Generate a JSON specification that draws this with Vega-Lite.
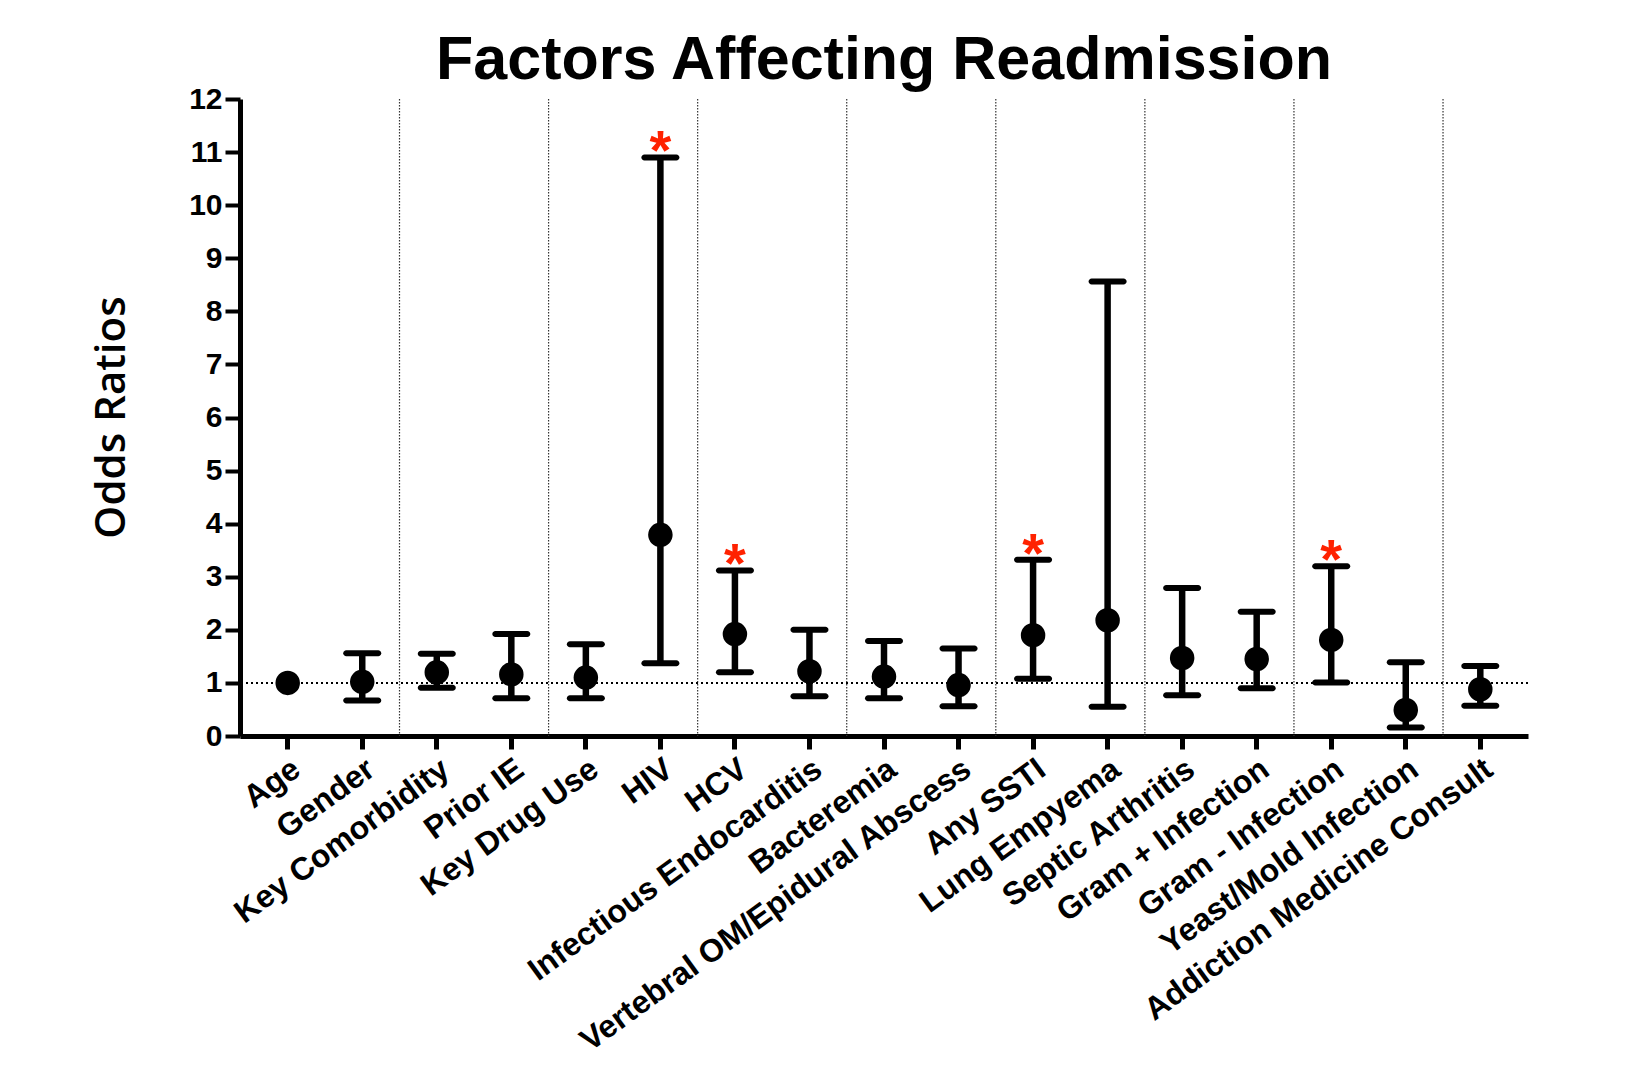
{
  "$schema": "https://vega.github.io/schema/vega-lite/v6.json",
  "autosize": "none",
  "width": 1288,
  "height": 637,
  "padding": {"left": 240, "top": 99, "right": 106, "bottom": 354},
  "background": "white",
  "title": {
    "text": "Factors Affecting Readmission",
    "font": "Liberation Sans",
    "fontSize": 61,
    "fontWeight": "bold",
    "color": "black",
    "anchor": "middle",
    "frame": "group",
    "baseline": "alphabetic",
    "offset": -56
  },
  "config": {
    "view": {"stroke": null},
    "axis": {"grid": false}
  },
  "data": {
    "values": [
      {"factor": "Age", "or": 1.0, "lo": null, "hi": null, "sig": false, "divider": false},
      {"factor": "Gender", "or": 1.02, "lo": 0.67, "hi": 1.56, "sig": false, "divider": true},
      {"factor": "Key Comorbidity", "or": 1.2, "lo": 0.91, "hi": 1.55, "sig": false, "divider": false},
      {"factor": "Prior IE", "or": 1.16, "lo": 0.71, "hi": 1.92, "sig": false, "divider": true},
      {"factor": "Key Drug Use", "or": 1.1, "lo": 0.71, "hi": 1.73, "sig": false, "divider": false},
      {"factor": "HIV", "or": 3.79, "lo": 1.37, "hi": 10.9, "sig": true, "divider": true},
      {"factor": "HCV", "or": 1.92, "lo": 1.2, "hi": 3.12, "sig": true, "divider": false},
      {"factor": "Infectious Endocarditis", "or": 1.22, "lo": 0.75, "hi": 2.0, "sig": false, "divider": true},
      {"factor": "Bacteremia", "or": 1.12, "lo": 0.71, "hi": 1.79, "sig": false, "divider": false},
      {"factor": "Vertebral OM/Epidural Abscess", "or": 0.96, "lo": 0.56, "hi": 1.65, "sig": false, "divider": true},
      {"factor": "Any SSTI", "or": 1.9, "lo": 1.08, "hi": 3.32, "sig": true, "divider": false},
      {"factor": "Lung Empyema", "or": 2.18, "lo": 0.55, "hi": 8.56, "sig": false, "divider": true},
      {"factor": "Septic Arthritis", "or": 1.47, "lo": 0.77, "hi": 2.79, "sig": false, "divider": false},
      {"factor": "Gram + Infection", "or": 1.45, "lo": 0.9, "hi": 2.34, "sig": false, "divider": true},
      {"factor": "Gram - Infection", "or": 1.81, "lo": 1.01, "hi": 3.2, "sig": true, "divider": false},
      {"factor": "Yeast/Mold Infection", "or": 0.49, "lo": 0.16, "hi": 1.39, "sig": false, "divider": true},
      {"factor": "Addiction Medicine Consult", "or": 0.88, "lo": 0.57, "hi": 1.32, "sig": false, "divider": false}
    ]
  },
  "layer": [
    {
      "transform": [{"filter": "datum.divider"}],
      "mark": {"type": "rule", "color": "#333333", "strokeWidth": 1.2, "strokeDash": [1.5, 1.5]},
      "encoding": {
        "x": {"field": "factor", "type": "nominal", "bandPosition": 1, "sort": ["Age", "Gender", "Key Comorbidity", "Prior IE", "Key Drug Use", "HIV", "HCV", "Infectious Endocarditis", "Bacteremia", "Vertebral OM/Epidural Abscess", "Any SSTI", "Lung Empyema", "Septic Arthritis", "Gram + Infection", "Gram - Infection", "Yeast/Mold Infection", "Addiction Medicine Consult"]}
      }
    },
    {
      "mark": {"type": "rule", "color": "black", "strokeWidth": 1.6, "strokeDash": [2, 3]},
      "encoding": {
        "y": {"datum": 1, "type": "quantitative"}
      }
    },
    {
      "transform": [{"filter": "isValid(datum.lo)"}],
      "mark": {"type": "rule", "color": "black", "strokeWidth": 6.5},
      "encoding": {
        "x": {"field": "factor", "type": "nominal", "sort": ["Age", "Gender", "Key Comorbidity", "Prior IE", "Key Drug Use", "HIV", "HCV", "Infectious Endocarditis", "Bacteremia", "Vertebral OM/Epidural Abscess", "Any SSTI", "Lung Empyema", "Septic Arthritis", "Gram + Infection", "Gram - Infection", "Yeast/Mold Infection", "Addiction Medicine Consult"]},
        "y": {"field": "lo", "type": "quantitative"},
        "y2": {"field": "hi"}
      }
    },
    {
      "transform": [{"filter": "isValid(datum.lo)"}],
      "mark": {"type": "tick", "color": "black", "orient": "horizontal", "size": 38, "thickness": 6, "opacity": 1, "cornerRadius": 3},
      "encoding": {
        "x": {"field": "factor", "type": "nominal", "sort": ["Age", "Gender", "Key Comorbidity", "Prior IE", "Key Drug Use", "HIV", "HCV", "Infectious Endocarditis", "Bacteremia", "Vertebral OM/Epidural Abscess", "Any SSTI", "Lung Empyema", "Septic Arthritis", "Gram + Infection", "Gram - Infection", "Yeast/Mold Infection", "Addiction Medicine Consult"]},
        "y": {"field": "lo", "type": "quantitative"}
      }
    },
    {
      "transform": [{"filter": "isValid(datum.hi)"}],
      "mark": {"type": "tick", "color": "black", "orient": "horizontal", "size": 38, "thickness": 6, "opacity": 1, "cornerRadius": 3},
      "encoding": {
        "x": {"field": "factor", "type": "nominal", "sort": ["Age", "Gender", "Key Comorbidity", "Prior IE", "Key Drug Use", "HIV", "HCV", "Infectious Endocarditis", "Bacteremia", "Vertebral OM/Epidural Abscess", "Any SSTI", "Lung Empyema", "Septic Arthritis", "Gram + Infection", "Gram - Infection", "Yeast/Mold Infection", "Addiction Medicine Consult"]},
        "y": {"field": "hi", "type": "quantitative"}
      }
    },
    {
      "mark": {"type": "circle", "color": "black", "size": 600, "opacity": 1},
      "encoding": {
        "x": {
          "field": "factor",
          "type": "nominal",
          "sort": ["Age", "Gender", "Key Comorbidity", "Prior IE", "Key Drug Use", "HIV", "HCV", "Infectious Endocarditis", "Bacteremia", "Vertebral OM/Epidural Abscess", "Any SSTI", "Lung Empyema", "Septic Arthritis", "Gram + Infection", "Gram - Infection", "Yeast/Mold Infection", "Addiction Medicine Consult"],
          "scale": {"type": "band", "paddingInner": 0, "paddingOuter": 0.14},
          "axis": {
            "title": null,
            "domainColor": "black",
            "domainWidth": 5,
            "tickColor": "black",
            "tickWidth": 5,
            "tickSize": 13,
            "labelAngle": -36,
            "labelAlign": "right",
            "labelBaseline": "top",
            "labelFont": "Liberation Sans",
            "labelFontSize": 32,
            "labelFontWeight": "bold",
            "labelColor": "black",
            "labelPadding": 4,
            "labelLimit": 0,
            "labelOverlap": false
          }
        },
        "y": {
          "field": "or",
          "type": "quantitative",
          "scale": {"domain": [0, 12], "nice": false, "zero": true},
          "axis": {
            "title": "Odds Ratios",
            "titleFont": "Open Sans",
            "titleFontSize": 42,
            "titleFontWeight": 600,
            "titleColor": "black",
            "titleAngle": -90,
            "titleX": -116,
            "titleY": 318,
            "titleAlign": "center",
            "titleBaseline": "alphabetic",
            "values": [0, 1, 2, 3, 4, 5, 6, 7, 8, 9, 10, 11, 12],
            "domainColor": "black",
            "domainWidth": 5,
            "tickColor": "black",
            "tickWidth": 4,
            "tickSize": 15,
            "labelFont": "Liberation Sans",
            "labelFontSize": 30,
            "labelFontWeight": "bold",
            "labelColor": "black",
            "labelPadding": 3
          }
        }
      }
    },
    {
      "transform": [{"filter": "datum.sig"}],
      "mark": {"type": "text", "text": "*", "color": "#ff2200", "font": "Liberation Sans", "fontSize": 56, "fontWeight": "bold", "baseline": "alphabetic", "dy": 12},
      "encoding": {
        "x": {"field": "factor", "type": "nominal", "sort": ["Age", "Gender", "Key Comorbidity", "Prior IE", "Key Drug Use", "HIV", "HCV", "Infectious Endocarditis", "Bacteremia", "Vertebral OM/Epidural Abscess", "Any SSTI", "Lung Empyema", "Septic Arthritis", "Gram + Infection", "Gram - Infection", "Yeast/Mold Infection", "Addiction Medicine Consult"]},
        "y": {"field": "hi", "type": "quantitative"}
      }
    }
  ]
}
